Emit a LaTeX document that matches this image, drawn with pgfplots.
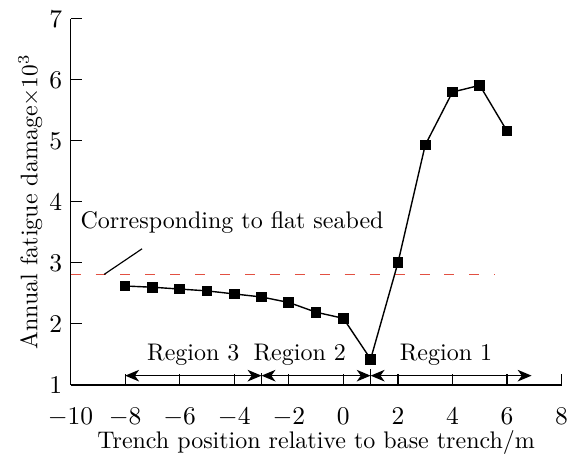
\documentclass[border=0pt]{standalone}
\usepackage{pgfplots}
\pgfplotsset{compat=1.18}
\usetikzlibrary{arrows.meta}
\definecolor{dashred}{RGB}{226,80,66}
\begin{document}
\fontsize{10.3}{12.4}\selectfont
\begin{tikzpicture}
\useasboundingbox (-30.3pt,-29.6pt) rectangle (214.4pt,165.2pt);
\begin{axis}[
  scale only axis,
  width=210.8pt, height=157.1pt,
  xmin=-10, xmax=8, ymin=1, ymax=7,
  axis lines*=left,
  axis line style={line width=0.7pt},
  xtick={-10,-8,...,8}, ytick={1,2,...,7},
  tick align=inside,
  major tick length=4.7pt,
  tick style={line width=0.5pt, black},
  tick label style={font=\fontsize{11.2}{13}\selectfont},
  xticklabel style={yshift=-6.5pt},
  xlabel={Trench position relative to base trench/m},
  ylabel={Annual fatigue damage$\times10^3$},
  xlabel style={yshift=5.5pt},
  ylabel style={yshift=-4pt},
  clip=false,
]
\addplot[dashred, line width=0.7pt, dash pattern=on 4.3pt off 6.4pt] coordinates {(-10,2.81) (5.55,2.81)};
\addplot[black, line width=0.6pt, mark=square*, mark size=2pt, mark options={solid}] coordinates {
 (-8,2.62) (-7,2.60) (-6,2.57) (-5,2.54) (-4,2.49) (-3,2.44) (-2,2.35) (-1,2.19) (0,2.09)
 (1,1.42) (2,3.00) (3,4.93) (4,5.80) (5,5.91) (6,5.16)};
\draw[black, line width=0.5pt] (axis cs:-8.77,2.81) -- (axis cs:-7.38,3.23);
\node[anchor=base west, inner sep=0pt] at (axis cs:-9.65,3.56) {Corresponding to flat seabed};
% region arrows
\tikzset{regarr/.style={line width=0.55pt, {Stealth[length=6pt,width=5pt,inset=1.8pt]}-{Stealth[length=6pt,width=5pt,inset=1.8pt]}}}
\draw[regarr] (axis cs:-8,1.15) -- (axis cs:-3,1.15);
\draw[regarr] (axis cs:-3,1.15) -- (axis cs:1,1.15);
\draw[regarr] (axis cs:1,1.15) -- (axis cs:6.9,1.15);
\draw[line width=0.5pt] (axis cs:-3,1) -- (axis cs:-3,1.2);
\draw[line width=0.5pt] (axis cs:1,0.98) -- (axis cs:1,1.26);
\node at (axis cs:-5.5,1.49) {Region 3};
\node at (axis cs:-1.6,1.49) {Region 2};
\node at (axis cs:3.76,1.49) {Region 1};
\end{axis}
\end{tikzpicture}
\end{document}
